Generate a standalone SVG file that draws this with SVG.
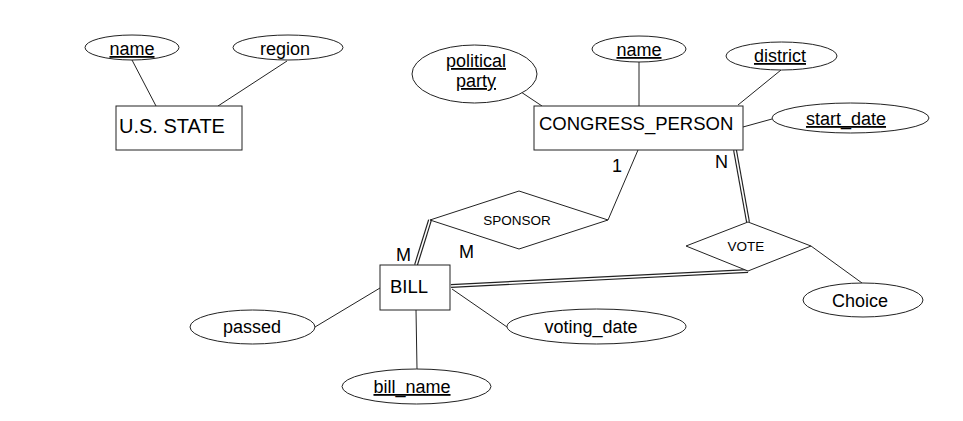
<svg xmlns="http://www.w3.org/2000/svg" width="963" height="421" viewBox="0 0 963 421">
<style>
.s{fill:#fff;stroke:#222;stroke-width:1}
.l{fill:none;stroke:#222;stroke-width:1}
.dbo{fill:none;stroke:#222;stroke-width:4}
.dbi{fill:none;stroke:#fff;stroke-width:1.6}
text{font-family:"Liberation Sans",Arial,sans-serif;fill:#000}
.a{font-size:18px;text-anchor:middle}
.u{text-decoration:underline}
.e{font-size:18.5px}
.r{font-size:13.5px;text-anchor:middle}
.c{font-size:18px}
</style>
<rect width="963" height="421" fill="#fff"/>
<g id="connectors">
<line class="l" x1="132" y1="60" x2="156" y2="106"/>
<line class="l" x1="287" y1="61" x2="218" y2="106"/>
<line class="l" x1="521" y1="92" x2="542" y2="106"/>
<line class="l" x1="639" y1="62" x2="639" y2="106"/>
<line class="l" x1="781" y1="70" x2="738" y2="105"/>
<line class="l" x1="743" y1="127" x2="772" y2="119"/>
<line class="l" x1="638" y1="150" x2="608" y2="220"/>
<line class="dbo" x1="735" y1="150" x2="748" y2="222"/>
<line class="dbi" x1="735" y1="150" x2="748" y2="222"/>
<line class="dbo" x1="430" y1="220" x2="416" y2="265"/>
<line class="dbi" x1="430" y1="220" x2="416" y2="265"/>
<line class="dbo" x1="451" y1="286" x2="748" y2="271"/>
<line class="dbi" x1="451" y1="286" x2="748" y2="271"/>
<line class="l" x1="811" y1="246" x2="862" y2="283"/>
<line class="l" x1="380" y1="288" x2="315" y2="327"/>
<line class="l" x1="416" y1="310" x2="417" y2="369"/>
<line class="l" x1="452" y1="289" x2="507" y2="327"/>
</g>
<g id="state_name"><ellipse class="s" cx="132" cy="47.5" rx="47" ry="12.5"/><text class="a u" x="132" y="55">name</text></g>
<g id="state_region"><ellipse class="s" cx="288" cy="47.5" rx="55" ry="12.5"/><text class="a" x="285" y="55">region</text></g>
<g id="us_state"><rect class="s" x="116" y="106" width="126" height="44"/><text class="e" x="119" y="133" style="font-size:20px">U.S. STATE</text></g>
<g id="political_party"><ellipse class="s" cx="474.5" cy="74" rx="62.5" ry="29"/><text class="a u" x="476" y="67">political</text><text class="a u" x="476" y="87">party</text></g>
<g id="cp_name"><ellipse class="s" cx="639" cy="49" rx="47" ry="13"/><text class="a u" x="639" y="56">name</text></g>
<g id="district"><ellipse class="s" cx="781.5" cy="56" rx="55.5" ry="14"/><text class="a u" x="780" y="62">district</text></g>
<g id="start_date"><ellipse class="s" cx="850.5" cy="118" rx="78.5" ry="15"/><text class="a u" x="846" y="125">start_date</text></g>
<g id="congress_person"><rect class="s" x="534" y="106" width="209" height="44"/><text class="e" x="539" y="130">CONGRESS_PERSON</text></g>
<g id="sponsor"><polygon class="s" points="430,220 519,191 608,220 519,249"/><text class="r" x="517" y="225">SPONSOR</text></g>
<g id="vote"><polygon class="s" points="686,246 748,222 811,246 748,271"/><text class="r" x="746" y="251">VOTE</text></g>
<g id="choice"><ellipse class="s" cx="863" cy="300" rx="60" ry="17"/><text class="a" x="860" y="307">Choice</text></g>
<g id="bill"><rect class="s" x="380" y="265" width="70" height="45"/><text class="e" x="390" y="293">BILL</text></g>
<g id="passed"><ellipse class="s" cx="252.5" cy="327" rx="62.5" ry="17"/><text class="a" x="252" y="333">passed</text></g>
<g id="bill_name"><ellipse class="s" cx="416.5" cy="386.5" rx="74.5" ry="17.5"/><text class="a u" x="412" y="393">bill_name</text></g>
<g id="voting_date"><ellipse class="s" cx="596.5" cy="326.5" rx="89.5" ry="17.5"/><text class="a" x="591" y="333">voting_date</text></g>
<g id="labels">
<text class="c" x="612" y="172">1</text>
<text class="c" x="715" y="168">N</text>
<text class="c" x="396" y="261">M</text>
<text class="c" x="459" y="258">M</text>
</g>
</svg>
